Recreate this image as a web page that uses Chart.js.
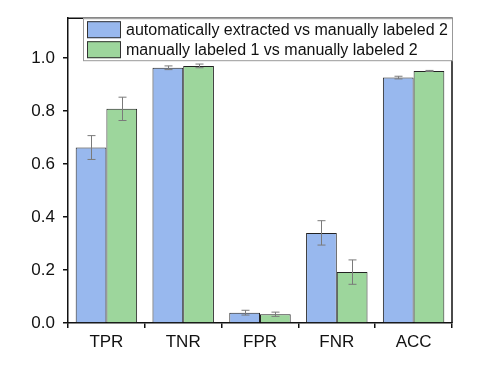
<!DOCTYPE html>
<html>
<head>
<meta charset="utf-8">
<script src="https://cdn.jsdelivr.net/npm/chart.js@4.4.0/dist/chart.umd.min.js"></script>
<style>
  html, body { margin: 0; padding: 0; background: #fff; }
  #wrap { width: 489px; height: 370px; }
</style>
</head>
<body>
<div id="wrap"><canvas id="c" width="489" height="370"></canvas></div>
<script>
// data
const categories = ['TPR', 'TNR', 'FPR', 'FNR', 'ACC'];
const autoVals = [0.662, 0.963, 0.039, 0.340, 0.926];
const autoErr = [0.045, 0.007, 0.009, 0.046, 0.005];
const manualVals = [0.808, 0.970, 0.033, 0.192, 0.951];
const manualErr = [0.044, 0.007, 0.008, 0.046, 0.002];
const seriesLabels = ['automatically extracted vs manually labeled 2', 'manually labeled 1 vs manually labeled 2'];
const yTicks = [0, 0.2, 0.4, 0.6, 0.8, 1.0];

const blue = '#98b8ee';
const green = '#9dd69c';
const errs = [autoErr, manualErr];

// error bars, frame and legend box
const extras = {
    id: 'extras',
    afterDatasetsDraw(chart) {
        const c = chart.ctx;
        const y = chart.scales.y;
        c.save();
        c.strokeStyle = '#7a7a7a';
        c.lineWidth = 1;
        chart.data.datasets.forEach((ds, i) => {
            chart.getDatasetMeta(i).data.forEach((bar, j) => {
                const x = Math.round(bar.x) + 0.5;
                const top = y.getPixelForValue(ds.data[j] + errs[i][j]);
                const bot = y.getPixelForValue(ds.data[j] - errs[i][j]);
                c.beginPath();
                c.moveTo(x, top); c.lineTo(x, bot);
                c.moveTo(x - 4, top); c.lineTo(x + 4, top);
                c.moveTo(x - 4, bot); c.lineTo(x + 4, bot);
                c.stroke();
            });
        });
        c.restore();
    },
    afterDraw(chart) {
        const c = chart.ctx;
        const a = chart.chartArea;
        c.save();
        // frame
        c.strokeStyle = '#111';
        c.lineWidth = 1.5;
        c.beginPath();
        c.moveTo(a.left, a.top); c.lineTo(a.right, a.top); c.lineTo(a.right, a.bottom);
        c.stroke();
        // right axis ticks
        categories.forEach((_, k) => {});
        // legend
        const lx = 83, ly = a.top, lw = a.right - 83, lh = 42;
        c.fillStyle = '#fff';
        c.fillRect(lx, ly, lw, lh);
        c.strokeStyle = '#999';
        c.lineWidth = 1;
        c.strokeRect(lx + 0.5, ly + 0.5, lw, lh);
        const cols = [blue, green];
        c.font = '16px "Liberation Sans", Arial, sans-serif';
        c.textBaseline = 'middle';
        seriesLabels.forEach((t, i) => {
            const sy = ly + 3 + i * 20;
            c.fillStyle = cols[i];
            c.fillRect(87, sy, 34, 17);
            c.strokeStyle = '#333';
            c.strokeRect(87.5, sy + 0.5, 33, 16);
            c.fillStyle = '#111';
            c.fillText(t, 126, sy + 9);
        });
        c.restore();
    }
};

new Chart(document.getElementById('c'), {
    type: 'bar',
    data: {
        labels: categories,
        datasets: [
            { label: seriesLabels[0], data: autoVals, backgroundColor: blue, borderColor: '#222', borderWidth: 1 },
            { label: seriesLabels[1], data: manualVals, backgroundColor: green, borderColor: '#222', borderWidth: 1 }
        ]
    },
    options: {
        responsive: false,
        animation: false,
        layout: { padding: { left: 0, right: 37, top: 14, bottom: 0 } },
        plugins: { legend: { display: false }, tooltip: { enabled: false } },
        datasets: { bar: { categoryPercentage: 0.8, barPercentage: 1.0 } },
        scales: {
            x: {
                afterFit: s => { s.height = 47; },
                grid: { offset: true, drawOnChartArea: false, drawTicks: true, tickLength: 5, color: '#111', lineWidth: 1.5 },
                border: { display: true, color: '#111', width: 1.5 },
                ticks: { color: '#111', padding: 4, font: { family: '"Liberation Sans", Arial, sans-serif', size: 17 } }
            },
            y: {
                min: 0,
                max: 1.15,
                afterFit: s => { s.width = 68; },
                afterBuildTicks: s => { s.ticks = yTicks.map(v => ({ value: v })); },
                grid: { drawOnChartArea: false, drawTicks: true, tickLength: 5, color: '#111', lineWidth: 1.5 },
                border: { display: true, color: '#111', width: 1.5 },
                ticks: {
                    color: '#111',
                    padding: 8,
                    font: { family: '"Liberation Sans", Arial, sans-serif', size: 17 },
                    callback: v => v.toFixed(1)
                }
            }
        }
    },
    plugins: [extras]
});
</script>
</body>
</html>
